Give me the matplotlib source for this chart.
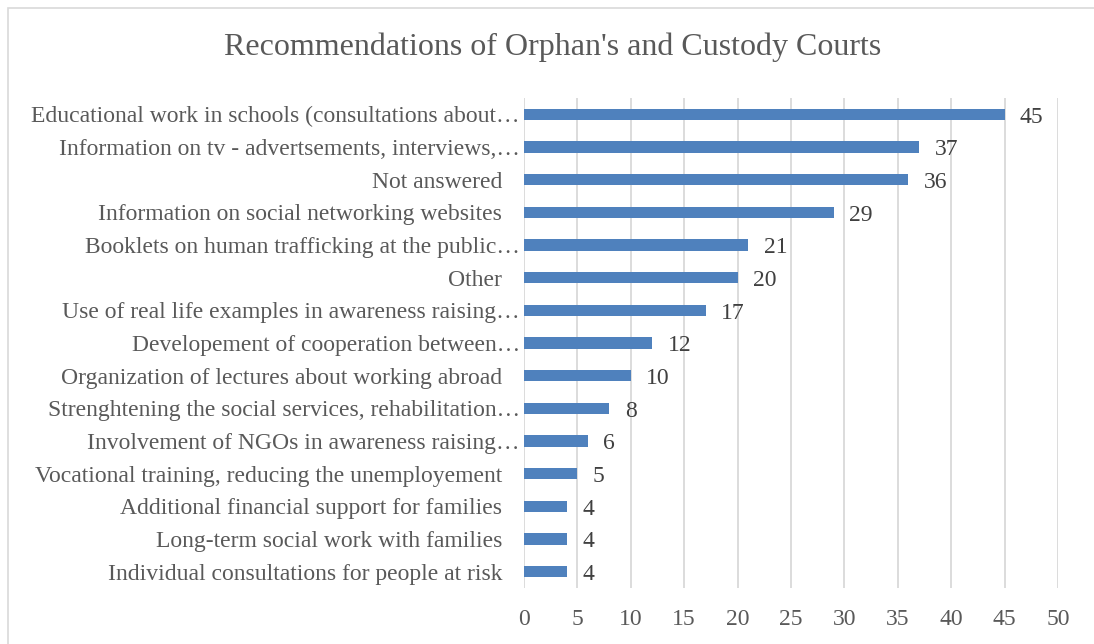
import matplotlib.pyplot as plt
from matplotlib.patches import Rectangle

# categories, bottom to top
labels = [
    "Individual consultations for people at risk   ",
    "Long-term social work with families   ",
    "Additional financial support for families   ",
    "Vocational training, reducing the unemployement   ",
    "Involvement of NGOs in awareness raising\u2026",
    "Strenghtening the social services, rehabilitation\u2026",
    "Organization of lectures about working abroad   ",
    "Developement of cooperation between\u2026",
    "Use of real life examples in awareness raising\u2026",
    "Other   ",
    "Booklets on human trafficking at the public\u2026",
    "Information on social networking websites   ",
    "Not answered   ",
    "Information on tv - advertsements, interviews,\u2026",
    "Educational work in schools (consultations about\u2026",
]
values = [4, 4, 4, 5, 6, 8, 10, 12, 17, 20, 21, 29, 36, 37, 45]
xticks = [0, 5, 10, 15, 20, 25, 30, 35, 40, 45, 50]

txt = "#595959"
plt.rcParams['font.family'] = ['Liberation Serif', 'DejaVu Serif']

fig = plt.figure(figsize=(10.94, 6.44), dpi=100)
fig.patches.append(Rectangle((0.0073, -0.01), 1.0, 0.9976, transform=fig.transFigure,
                             fill=False, edgecolor="#D9D9D9", linewidth=1.2))
ax = fig.add_axes([0.479, 0.0870, 0.9671 - 0.479, 0.7608])

y = range(len(labels))
ax.barh(y, values, height=0.34, color="#4F81BD", zorder=3)
for i, v in zip(y, values):
    ax.annotate(str(v), (v, i), xytext=(11, -2), textcoords="offset points",
                va="center", ha="left", fontsize=17, color="#404040")

ax.set_xlim(0, 50)
ax.set_ylim(-0.5, len(labels) - 0.5)
ax.set_xticks(xticks)
ax.set_yticks(list(y))
ax.set_yticklabels(labels)
ax.tick_params(axis="both", length=0, labelsize=17, labelcolor=txt)
ax.tick_params(axis="y", pad=3)
ax.tick_params(axis="x", pad=15)
ax.grid(axis="x", color="#D9D9D9", linewidth=1.3, zorder=0)
for s in ax.spines.values():
    s.set_visible(False)

fig.text(0.5055, 0.927, "Recommendations of Orphan's and Custody Courts",
         ha="center", va="center", fontsize=23, color=txt)

fig.savefig("out.png", dpi=100)
